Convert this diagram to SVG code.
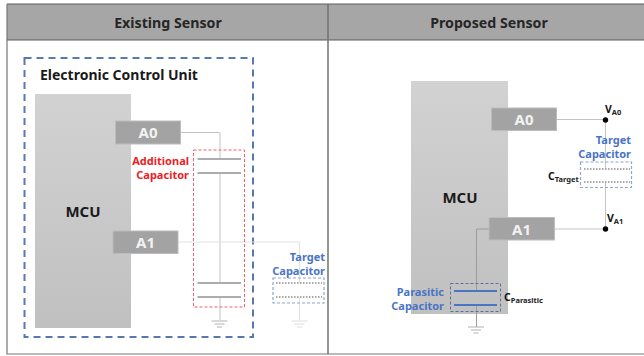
<svg xmlns="http://www.w3.org/2000/svg" width="644" height="356" viewBox="0 0 644 356">
<defs>
<linearGradient id="mcu" x1="0" y1="0" x2="0" y2="1"><stop offset="0" stop-color="#d2d2d2"/><stop offset="1" stop-color="#c0c0c0"/></linearGradient>
<g id="gnd"><path d="M-8 0H8M-5 3H5M-2.500 6H2.500" fill="none" stroke-width="1"/></g>
</defs>
<style>
text{font-family:"Noto Sans","Open Sans","Liberation Sans",sans-serif;font-weight:700}
.hd{font-size:14.200px;fill:#262626;text-anchor:middle}
.pin{fill:#a3a3a3;stroke:#bcbcbc;stroke-width:1}
.pt{font-size:15px;fill:#f2f2f2;text-anchor:middle}
.mcu{fill:url(#mcu)}
.mt{font-size:15px;fill:#1a1a1a;text-anchor:middle}
.blue{font-size:11px;fill:#4a74c4;text-anchor:end}
.red{font-size:11px;fill:#ee1c25;text-anchor:end}
.w{fill:none;stroke:#c4c4c4;stroke-width:1}
.wd{fill:none;stroke:#9c9c9c;stroke-width:1}
.wl{fill:none;stroke:#e2e2e2;stroke-width:1}
.plate{stroke:#adadad;stroke-width:2;fill:none}
.bp{stroke:#4a74c4;stroke-width:2;fill:none}
.dp{stroke:#a8a8a8;stroke-width:2;stroke-dasharray:1.500 1.500;fill:none}
.bd{fill:none;stroke:#8fa6d4;stroke-width:1.200;stroke-dasharray:3 2}
.sym{font-size:10.500px;fill:#111}
.sub{font-size:7.500px;fill:#222}
</style>
<g id="frame">
<rect x="7" y="4" width="637" height="36" fill="#a6a6a6"/>
<path d="M7 4H644M7 40H644" stroke="#5a5a5a" stroke-width="1" fill="none"/>
<path d="M7 4V354H644" stroke="#777" stroke-width="1.200" fill="none"/>
<path d="M328 4V354" stroke="#707070" stroke-width="1.500" fill="none"/>
<text class="hd" x="168" y="27.500">Existing Sensor</text>
<text class="hd" x="489" y="27.500">Proposed Sensor</text>
</g>
<g id="ecu">
<rect x="24.500" y="58" width="228.500" height="279" fill="none" stroke="#5878b0" stroke-width="2" stroke-dasharray="7 5"/>
<text x="40" y="80" font-size="14" fill="#1a1a1a">Electronic Control Unit</text>
</g>
<g id="mcu-left"><rect class="mcu" x="35" y="94" width="96" height="234"/><text class="mt" x="83" y="217">MCU</text></g>
<g id="mcu-right"><rect class="mcu" x="411" y="81" width="97" height="233"/><text class="mt" x="460" y="203">MCU</text></g>
<g id="connectors">
<path class="w" d="M180 132.500H220V159M220 173V283M220 297V320"/>
<path class="wl" d="M178 242H299.500V283M299.500 297V320"/>
<path class="w" d="M556 119.500H605.500V169M605.500 182V229H554"/>
<path class="wd" d="M489 229H476.500V291M476.500 305V327"/>
<use href="#gnd" x="219.500" y="321" stroke="#b0b0b0"/>
<use href="#gnd" x="299.500" y="321" stroke="#dcdcdc"/>
<use href="#gnd" x="476" y="327" stroke="#b0b0b0"/>
</g>
<g id="pin-a0-left"><rect class="pin" x="115.500" y="121" width="65" height="23"/><text class="pt" x="148" y="138">A0</text></g>
<g id="pin-a1-left"><rect class="pin" x="113" y="231" width="65" height="22.500"/><text class="pt" x="145.500" y="248">A1</text></g>
<g id="pin-a0-right"><rect class="pin" x="491.500" y="108" width="65" height="22.500"/><text class="pt" x="524" y="125">A0</text></g>
<g id="pin-a1-right"><rect class="pin" x="489" y="217.500" width="65.500" height="22.500"/><text class="pt" x="521.500" y="234.500">A1</text></g>
<g id="additional-capacitor">
<rect x="193.500" y="150" width="51" height="157" fill="none" stroke="#f0606a" stroke-width="1" stroke-dasharray="3 2"/>
<path class="plate" d="M197.500 159H241M197.500 173H241M197.500 283H241M197.500 297H241"/>
<text class="red" x="189" y="165">Additional</text>
<text class="red" x="189" y="179">Capacitor</text>
</g>
<g id="target-capacitor-left">
<rect class="bd" x="273" y="278" width="51" height="25"/>
<path class="dp" d="M276 283H322M276 297H322"/>
<text class="blue" x="325" y="261">Target</text>
<text class="blue" x="325" y="275">Capacitor</text>
</g>
<g id="target-capacitor-right">
<rect class="bd" x="580.500" y="162" width="51" height="25.500"/>
<path class="dp" d="M584 169H630M584 182H630"/>
<text class="blue" x="631" y="144">Target</text>
<text class="blue" x="631" y="158">Capacitor</text>
<text class="sym" x="548" y="180">C<tspan class="sub" dy="1.500">Target</tspan></text>
</g>
<g id="va0"><circle cx="605.500" cy="120" r="2.700" fill="#000"/><text class="sym" x="605" y="113">V<tspan class="sub" dy="2">A0</tspan></text></g>
<g id="va1"><circle cx="605.500" cy="229" r="2.700" fill="#000"/><text class="sym" x="607" y="222">V<tspan class="sub" dy="2">A1</tspan></text></g>
<g id="parasitic-capacitor">
<rect x="450.500" y="283.500" width="50" height="28" fill="none" stroke="#5a6f9c" stroke-width="1" stroke-dasharray="3 2"/>
<path class="bp" d="M454 291H497M454 305H497"/>
<text class="blue" x="444" y="296">Parasitic</text>
<text class="blue" x="444" y="310">Capacitor</text>
<text class="sym" x="504" y="301">C<tspan class="sub" dy="2">Parasitic</tspan></text>
</g>
</svg>
